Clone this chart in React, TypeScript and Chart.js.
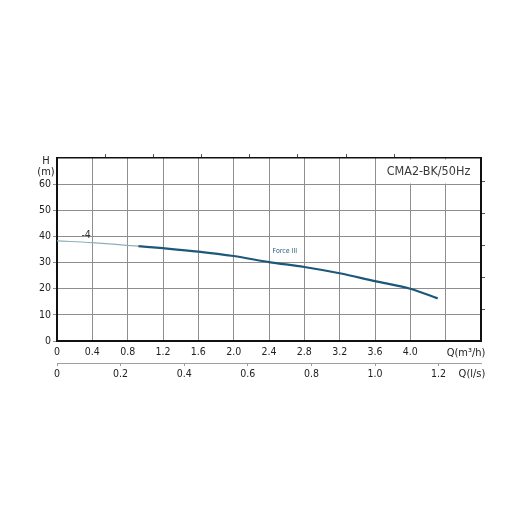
import React, { useEffect, useRef } from 'react';
import { Chart, registerables } from 'chart.js';

Chart.register(...registerables);

// Pump curve CMA2-BK/50Hz, head H (m) vs flow Q (m3/h)
const flowLight = [0, 0.4, 0.92];
const headLight = [38.3, 37.6, 36.3];
const flowDark = [0.92, 1.2, 1.6, 2.0, 2.4, 2.8, 3.2, 3.6, 4.0, 4.31];
const headDark = [36.3, 35.5, 34.2, 32.5, 30.2, 28.3, 25.9, 22.9, 20.0, 16.3];

const qMax = 4.8; // m3/h
const hMax = 70; // m
const qStep = 0.4;
const qLabelMax = 4.0;
const lsTicks = [0, 0.2, 0.4, 0.6, 0.8, 1.0, 1.2]; // l/s
const ftTicks = [40, 80, 120, 160, 200]; // ft (unlabelled right ticks)
const gpmTicks = [2, 4, 6, 8, 10, 12, 14]; // imp gpm (unlabelled top ticks)
const hTicks = [0, 10, 20, 30, 40, 50, 60];
const title = 'CMA2-BK/50Hz';
const curveLabel = 'Force III';
const impellerLabel = '-4';

const FONT = '"Liberation Sans Narrow", "DejaVu Sans Condensed", Lato, sans-serif';
const GRID = '#8e8e8e';

const fmt = (v: number) => (Math.abs(v) < 1e-9 ? '0' : v.toFixed(1));

const textPlugin = {
  id: 'texts',
  beforeDatasetsDraw(chart: any) {
    const { ctx, scales } = chart;
    const x = scales.x;
    const y = scales.y;
    ctx.save();
    const x0 = x.getPixelForValue(3.6) + 1;
    const x1 = x.getPixelForValue(qMax) - 1.5;
    const y0 = y.getPixelForValue(hMax) + 1.5;
    const y1 = y.getPixelForValue(60) - 0.6;
    ctx.fillStyle = '#ffffff';
    ctx.fillRect(x0, y0, x1 - x0, y1 - y0);
    ctx.restore();
  },
  afterDatasetsDraw(chart: any) {
    const { ctx, scales } = chart;
    const x = scales.x;
    const y = scales.y;
    ctx.save();
    ctx.textAlign = 'center';
    ctx.textBaseline = 'middle';
    ctx.fillStyle = '#3a3a3a';
    ctx.font = `12.5px ${FONT}`;
    ctx.fillText(title, (x.getPixelForValue(3.6) + x.getPixelForValue(qMax)) / 2 + 0.5, (y.getPixelForValue(70) + y.getPixelForValue(60)) / 2 + 1);

    ctx.fillStyle = '#222';
    ctx.font = `11px ${FONT}`;
    ctx.fillText('H', 46, 161);
    ctx.fillText('(m)', 46, 172);

    ctx.font = `11px ${FONT}`;
    ctx.fillText('Q(m³/h)', 466, 353);
    ctx.fillText('Q(l/s)', 472, 374);

    ctx.fillStyle = '#333';
    ctx.font = `10.5px ${FONT}`;
    ctx.fillText(impellerLabel, x.getPixelForValue(0.33), y.getPixelForValue(40.4));

    ctx.fillStyle = '#2f5f7c';
    ctx.font = `7px ${FONT}`;
    ctx.fillText(curveLabel, x.getPixelForValue(2.58), y.getPixelForValue(34.3));
    ctx.restore();
  },
};

const setTicks = (vals: number[]) => (s: any) => {
  s.ticks = vals.map((v) => ({ value: v }));
};

export default function App() {
  const ref = useRef<HTMLCanvasElement | null>(null);

  useEffect(() => {
    if (!ref.current) return;
    const chart = new Chart(ref.current, {
      type: 'line',
      data: {
        datasets: [
          {
            data: flowLight.map((q, i) => ({ x: q, y: headLight[i] })),
            borderColor: '#8fb0b9',
            borderWidth: 1.2,
            pointRadius: 0,
            tension: 0.4,
            xAxisID: 'x',
            yAxisID: 'y',
          },
          {
            data: flowDark.map((q, i) => ({ x: q, y: headDark[i] })),
            borderColor: '#1d587a',
            borderWidth: 2.2,
            pointRadius: 0,
            cubicInterpolationMode: 'monotone',
            xAxisID: 'x',
            yAxisID: 'y',
          },
        ],
      },
      options: {
        responsive: false,
        animation: false,
        layout: { padding: 0 },
        plugins: { legend: { display: false }, tooltip: { enabled: false } },
        scales: {
          x: {
            type: 'linear',
            position: 'bottom',
            weight: 0,
            min: 0,
            max: qMax,
            ticks: {
              stepSize: qStep,
              padding: 5,
              color: '#222',
              font: { size: 10.5, family: FONT },
              maxRotation: 0,
              autoSkip: false,
              callback: (v: any) => (v > qLabelMax + 0.01 ? '' : fmt(Number(v))),
            },
            grid: { color: GRID, lineWidth: 1, drawTicks: false },
            border: { color: '#111', width: 2 },
            afterFit: (s: any) => { s.height = 22; },
          },
          x2: {
            type: 'linear',
            position: 'bottom',
            weight: 1,
            min: 0,
            max: qMax / 3.6,
            afterBuildTicks: setTicks(lsTicks),
            ticks: {
              padding: 2,
              color: '#222',
              font: { size: 10.5, family: FONT },
              maxRotation: 0,
              autoSkip: false,
              callback: (v: any) => fmt(Number(v)),
            },
            grid: { drawOnChartArea: false, color: '#999', tickLength: 3 },
            border: { color: '#a0a0a0', width: 1 },
            afterFit: (s: any) => { s.height = 149; },
          },
          xt: {
            type: 'linear',
            position: 'top',
            min: 0,
            max: (qMax * 1000) / 60 / 4.54609,
            afterBuildTicks: setTicks(gpmTicks),
            ticks: { callback: () => '', font: { size: 1 }, padding: 0 },
            grid: { drawOnChartArea: false, color: '#555', tickLength: 4 },
            border: { color: '#111', width: 1.5 },
            afterFit: (s: any) => { s.height = 158; },
          },
          y: {
            type: 'linear',
            position: 'left',
            min: 0,
            max: hMax,
            afterBuildTicks: setTicks(hTicks),
            ticks: {
              padding: 2,
              color: '#222',
              font: { size: 10.5, family: FONT },
              callback: (v: any) => String(v),
            },
            grid: { color: GRID, lineWidth: 1, tickLength: 4 },
            border: { color: '#111', width: 2 },
            afterFit: (s: any) => { s.width = 57; },
          },
          yr: {
            type: 'linear',
            position: 'right',
            min: 0,
            max: hMax / 0.3048,
            afterBuildTicks: setTicks(ftTicks),
            ticks: { callback: () => '', font: { size: 1 }, padding: 0 },
            grid: { drawOnChartArea: false, color: '#555', tickLength: 4 },
            border: { color: '#111', width: 2 },
            afterFit: (s: any) => { s.width = 31; },
          },
        },
      },
      plugins: [textPlugin],
    } as any);
    return () => chart.destroy();
  }, []);

  return (
    <div style={{ position: 'absolute', left: 0, top: 0, width: 512, height: 512, background: '#fff' }}>
      <canvas ref={ref} width={512} height={512} />
    </div>
  );
}
